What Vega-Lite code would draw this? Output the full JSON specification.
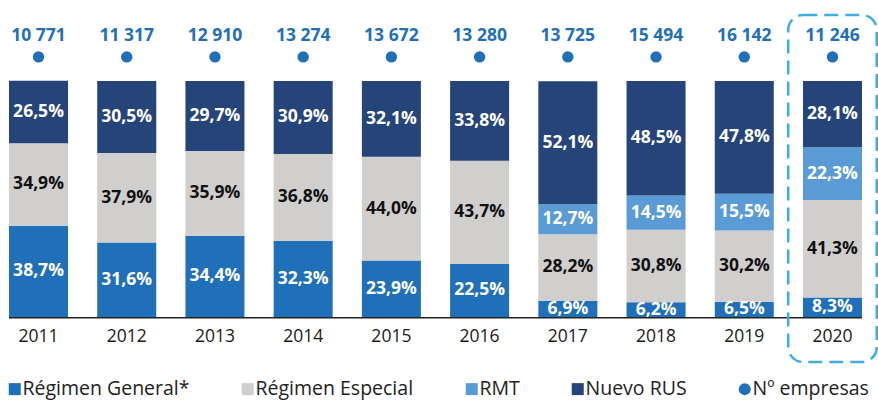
{
  "$schema": "https://vega.github.io/schema/vega-lite/v6.json",
  "width": 878,
  "height": 400,
  "padding": 0,
  "autosize": {"type": "none"},
  "background": "white",
  "config": {"view": {"stroke": null}, "font": "Open Sans"},
  "datasets": {
    "shares": [
      {"year": "2011", "regimen": "Régimen General*", "pct": 38.7, "ord": 1},
      {"year": "2011", "regimen": "Régimen Especial", "pct": 34.9, "ord": 2},
      {"year": "2011", "regimen": "Nuevo RUS", "pct": 26.5, "ord": 4},
      {"year": "2012", "regimen": "Régimen General*", "pct": 31.6, "ord": 1},
      {"year": "2012", "regimen": "Régimen Especial", "pct": 37.9, "ord": 2},
      {"year": "2012", "regimen": "Nuevo RUS", "pct": 30.5, "ord": 4},
      {"year": "2013", "regimen": "Régimen General*", "pct": 34.4, "ord": 1},
      {"year": "2013", "regimen": "Régimen Especial", "pct": 35.9, "ord": 2},
      {"year": "2013", "regimen": "Nuevo RUS", "pct": 29.7, "ord": 4},
      {"year": "2014", "regimen": "Régimen General*", "pct": 32.3, "ord": 1},
      {"year": "2014", "regimen": "Régimen Especial", "pct": 36.8, "ord": 2},
      {"year": "2014", "regimen": "Nuevo RUS", "pct": 30.9, "ord": 4},
      {"year": "2015", "regimen": "Régimen General*", "pct": 23.9, "ord": 1},
      {"year": "2015", "regimen": "Régimen Especial", "pct": 44.0, "ord": 2},
      {"year": "2015", "regimen": "Nuevo RUS", "pct": 32.1, "ord": 4},
      {"year": "2016", "regimen": "Régimen General*", "pct": 22.5, "ord": 1},
      {"year": "2016", "regimen": "Régimen Especial", "pct": 43.7, "ord": 2},
      {"year": "2016", "regimen": "Nuevo RUS", "pct": 33.8, "ord": 4},
      {"year": "2017", "regimen": "Régimen General*", "pct": 6.9, "ord": 1},
      {"year": "2017", "regimen": "Régimen Especial", "pct": 28.2, "ord": 2},
      {"year": "2017", "regimen": "RMT", "pct": 12.7, "ord": 3},
      {"year": "2017", "regimen": "Nuevo RUS", "pct": 52.1, "ord": 4},
      {"year": "2018", "regimen": "Régimen General*", "pct": 6.2, "ord": 1},
      {"year": "2018", "regimen": "Régimen Especial", "pct": 30.8, "ord": 2},
      {"year": "2018", "regimen": "RMT", "pct": 14.5, "ord": 3},
      {"year": "2018", "regimen": "Nuevo RUS", "pct": 48.5, "ord": 4},
      {"year": "2019", "regimen": "Régimen General*", "pct": 6.5, "ord": 1},
      {"year": "2019", "regimen": "Régimen Especial", "pct": 30.2, "ord": 2},
      {"year": "2019", "regimen": "RMT", "pct": 15.5, "ord": 3},
      {"year": "2019", "regimen": "Nuevo RUS", "pct": 47.8, "ord": 4},
      {"year": "2020", "regimen": "Régimen General*", "pct": 8.3, "ord": 1},
      {"year": "2020", "regimen": "Régimen Especial", "pct": 41.3, "ord": 2},
      {"year": "2020", "regimen": "RMT", "pct": 22.3, "ord": 3},
      {"year": "2020", "regimen": "Nuevo RUS", "pct": 28.1, "ord": 4}
    ],
    "empresas": [
      {"year": "2011", "n": 10771},
      {"year": "2012", "n": 11317},
      {"year": "2013", "n": 12910},
      {"year": "2014", "n": 13274},
      {"year": "2015", "n": 13672},
      {"year": "2016", "n": 13280},
      {"year": "2017", "n": 13725},
      {"year": "2018", "n": 15494},
      {"year": "2019", "n": 16142},
      {"year": "2020", "n": 11246}
    ]
  },
  "encoding": {
    "x": {
      "field": "year",
      "type": "nominal",
      "axis": null,
      "scale": {"paddingInner": 0.331, "paddingOuter": 0.1417, "align": 0.36}
    }
  },
  "layer": [
    {
      "data": {"name": "shares"},
      "transform": [
        {"stack": "pct", "groupby": ["year"], "sort": [{"field": "ord"}], "as": ["y0", "y1"]},
        {"calculate": "(datum.y0 + datum.y1) / 2", "as": "ymid"},
        {"calculate": "replace(format(datum.pct, '.1f'), '.', ',') + '%'", "as": "label"}
      ],
      "layer": [
        {
          "mark": {"type": "bar"},
          "encoding": {
            "y": {
              "field": "y0",
              "type": "quantitative",
              "axis": null,
              "scale": {"domain": [-35.17, 134.32], "nice": false, "zero": false}
            },
            "y2": {"field": "y1"},
            "color": {
              "field": "regimen",
              "type": "nominal",
              "scale": {
                "domain": ["Régimen General*", "Régimen Especial", "RMT", "Nuevo RUS", "Nº empresas"],
                "range": ["#1f70b8", "#d1cfce", "#5b9bd5", "#25447a", "#1f70b8"]
              },
              "legend": {
                "orient": "none",
                "legendX": 5,
                "legendY": 379,
                "direction": "horizontal",
                "title": null,
                "symbolType": "square",
                "symbolSize": 144,
                "symbolStrokeWidth": 0,
                "labelFontSize": 19.5,
                "labelFont": "Open Sans",
                "labelColor": "#222222",
                "labelOffset": -2,
                "labelLimit": 400,
                "columnPadding": 48,
                "encode": {
                  "symbols": {
                    "update": {
                      "shape": {"signal": "datum.value === 'Nº empresas' ? 'circle' : 'square'"}
                    }
                  }
                }
              }
            }
          }
        },
        {
          "mark": {"type": "text", "fontSize": 17.5, "fontWeight": "bold", "baseline": "middle"},
          "encoding": {
            "y": {"field": "ymid", "type": "quantitative"},
            "text": {"field": "label"},
            "color": {
              "condition": {"test": "datum.regimen === 'Régimen Especial'", "value": "#111111"},
              "value": "white"
            }
          }
        }
      ]
    },
    {
      "data": {"name": "empresas"},
      "transform": [
        {"calculate": "replace(format(datum.n, ','), ',', ' ')", "as": "nlabel"}
      ],
      "layer": [
        {
          "mark": {"type": "point", "filled": true, "size": 130, "opacity": 1},
          "encoding": {
            "y": {"datum": 110.2, "type": "quantitative"},
            "color": {"datum": "Nº empresas", "type": "nominal"}
          }
        },
        {
          "mark": {"type": "text", "fontSize": 17.5, "fontWeight": "bold", "baseline": "middle", "color": "#1f70b8"},
          "encoding": {
            "y": {"datum": 119.1, "type": "quantitative"},
            "text": {"field": "nlabel"}
          }
        },
        {
          "mark": {"type": "text", "fontSize": 17.5, "baseline": "middle", "color": "#1a1a1a"},
          "encoding": {
            "y": {"datum": -8.3, "type": "quantitative"},
            "text": {"field": "year"}
          }
        }
      ]
    },
    {
      "data": {"values": [{}]},
      "layer": [
        {
          "mark": {"type": "rule", "color": "#222222", "strokeWidth": 1.5},
          "encoding": {
            "x": {"datum": "2011", "bandPosition": 0},
            "x2": {"datum": "2020", "bandPosition": 1},
            "y": {"datum": -0.3, "type": "quantitative"}
          }
        },
        {
          "mark": {
            "type": "bar",
            "filled": false,
            "stroke": "#41ace3",
            "strokeWidth": 2.5,
            "strokeDash": [14, 7],
            "cornerRadius": 15,
            "width": {"band": 1.5}
          },
          "encoding": {
            "x": {"datum": "2020"},
            "y": {"datum": 128.0, "type": "quantitative"},
            "y2": {"datum": -19.1}
          }
        }
      ]
    }
  ]
}
